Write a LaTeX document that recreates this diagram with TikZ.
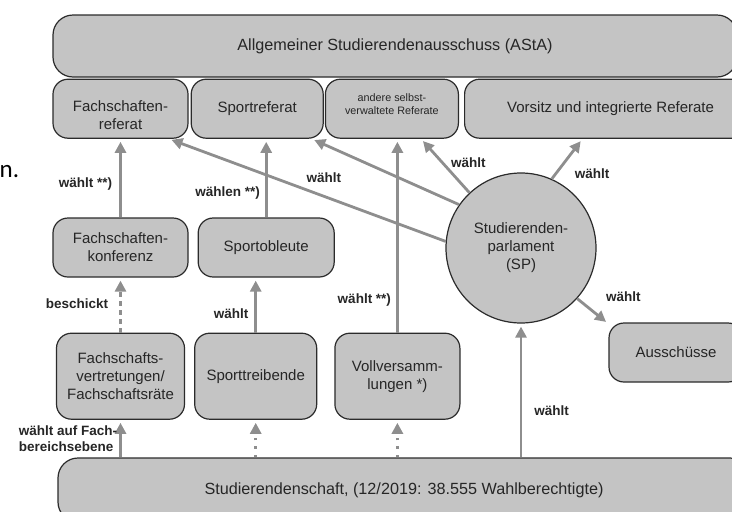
\documentclass[tikz,border=0pt]{standalone}
\usepackage{fontspec}
\setmainfont{Liberation Sans}
\newfontfamily\restfont{Carlito}
\usetikzlibrary{arrows.meta, positioning}
\definecolor{boxgray}{HTML}{C4C4C4}
\definecolor{arrowgray}{HTML}{8E8E8E}
\definecolor{edgegray}{HTML}{2B2B2B}
\definecolor{textgray}{HTML}{262626}

\begin{document}
\begin{tikzpicture}[x=1pt, y=-1pt]
	\tikzset{box/.style={draw=edgegray, line width=1.2pt, fill=boxgray, rounded corners=15pt, align=center, text=textgray, inner sep=0pt, font=\fontsize{15}{18}\selectfont},
		bigbox/.style={box, rounded corners=20pt, font=\fontsize{16.2}{19}\selectfont},
		parl/.style={box, circle, minimum size=150pt},
		wahl/.style={-{Triangle[length=11pt, width=11pt]}, draw=arrowgray, line width=2.8pt, shorten >=3pt},
		beschick/.style={wahl, dash pattern=on 5pt off 4pt},
		offen/.style={wahl, dash pattern=on 2.5pt off 6pt},
		lbl/.style={font=\bfseries\fontsize{13.5}{15.5}\selectfont, text=textgray, inner sep=1pt, align=left}}

	\useasboundingbox (0,0) rectangle (732,512);
	\clip (0,0) rectangle (732,512);

	\node[font=\restfont\fontsize{25}{27}\selectfont, anchor=base west, inner sep=0pt] (rest) at (-0.5,177) {n.};

	\node[bigbox, minimum width=684pt, minimum height=62pt] (asta) at (395,46) {Allgemeiner Studierendenausschuss (AStA)};
	\node[box, minimum width=135pt, minimum height=59pt, below right=1pt and 0pt of asta.south west] (fref) {\raisebox{-8pt}[\height][\depth]{\begin{tabular}{@{}c@{}}Fachschaften-\\referat\end{tabular}}};
	\node[box, minimum width=132pt, minimum height=59pt, right=2pt of fref] (spref) {Sportreferat};
	\node[box, minimum width=133pt, minimum height=59pt, right=1pt of spref, font=\fontsize{10.8}{12.5}\selectfont] (andref) {\raisebox{3pt}[\height][\depth]{\begin{tabular}{@{}c@{}}andere selbst-\\verwaltete Referate\end{tabular}}};
	\node[box, minimum width=292pt, minimum height=59pt, right=5pt of andref] (vref) {Vorsitz und integrierte Referate};

	\node[box, minimum width=135pt, minimum height=59pt] (fkon) at (120.5,247.5) {Fachschaften-\\konferenz};
	\node[box, minimum width=136pt, minimum height=59pt, right=9pt of fkon] (spob) {Sportobleute};
	\node[box, minimum width=128pt, minimum height=86pt, below=55pt of fkon] (fsv) {Fachschafts-\\vertretungen/\\Fachschaftsr\"ate};
	\node[box, minimum width=122pt, minimum height=86pt, right=9pt of fsv] (spt) {Sporttreibende};
	\node[box, minimum width=125pt, minimum height=86pt, right=17pt of spt] (vv) {Vollversamm-\\lungen *)};

	\node[parl] (sp) at (521,248) {Studierenden-\\parlament\\(SP)};
	\node[box, minimum width=134pt, minimum height=59pt] (auss) at (676,352.5) {Aussch\"usse};
	\node[bigbox, minimum width=692pt, minimum height=64pt] (stud) at (404,490) {Studierendenschaft, (12/2019: 38.555 Wahlberechtigte)};

	\draw[wahl] (fkon.north) -- (fkon.north |- fref.south) node[lbl, pos=.43, left=6pt] {w\"ahlt **)};
	\draw[wahl] (spob.north) -- (spob.north |- spref.south) node[lbl, pos=.31, left=4pt] {w\"ahlen **)};
	\draw[beschick] (fsv.north) -- (fsv.north |- fkon.south) node[lbl, pos=.53, left=10pt] {beschickt};
	\draw[wahl] (spt.north) -- (spt.north |- spob.south) node[lbl, pos=.35, left=5pt] {w\"ahlt};
	\draw[wahl] (vv.north) -- (vv.north |- andref.south) node[lbl, pos=.17, left=4pt] {w\"ahlt **)};

	\draw[wahl] (fsv.south |- stud.north) -- (fsv.south) node[lbl, pos=.5, left=1pt] {w\"ahlt auf Fach-\\bereichsebene};
	\draw[offen] (spt.south |- stud.north) -- (spt.south);
	\draw[offen] (vv.south |- stud.north) -- (vv.south);
	\draw[wahl] (sp.south |- stud.north) -- (sp.south) node[lbl, pos=.35, right=11pt] {w\"ahlt};

	\draw[wahl] (sp.175) -- (fref.-32) node[lbl, pos=.44, above=11pt] {w\"ahlt};
	\draw[wahl] (sp.145) -- (spref.-29);
	\draw[wahl] (sp.133) -- (andref.-46) node[lbl, pos=.55, right=6pt] {w\"ahlt};
	\draw[wahl] (sp.66) -- (vref.-133.5) node[lbl, pos=.12, right=17pt] {w\"ahlt};
	\draw[wahl] (sp.-42) -- (auss.157) node[lbl, pos=.5, above right=7pt and 11pt] {w\"ahlt};
\end{tikzpicture}
\end{document}
